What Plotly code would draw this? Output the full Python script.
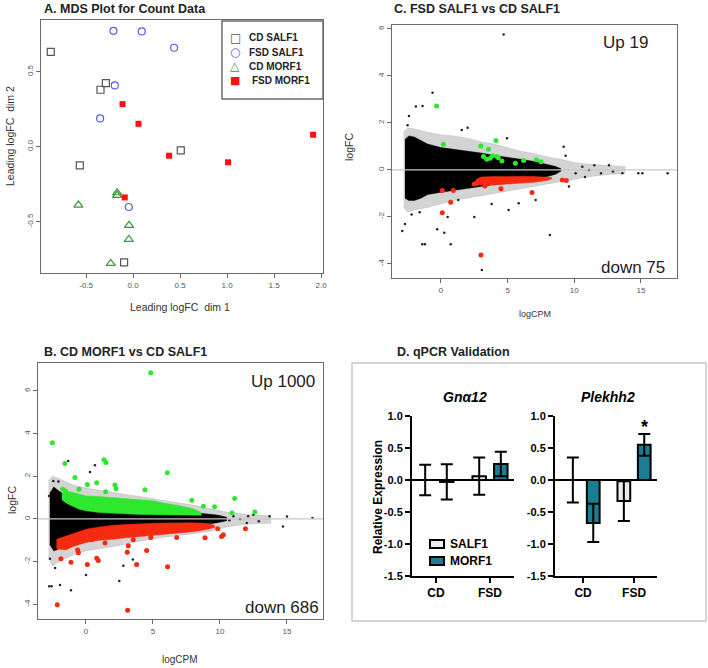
import plotly.graph_objects as go

W, H = 708, 668
def fx(px): return px / W
def fy(py): return 1 - py / H

FONT = "Liberation Sans, Arial, sans-serif"

# ---------------- Panel A: MDS data ----------------
cd_salf_x = [-0.876, -0.29, -0.347, -0.567, 0.507, -0.096]
cd_salf_y = [0.633, 0.424, 0.38, -0.124, -0.024, -0.771]
fsd_salf_x = [-0.209, 0.092, 0.436, -0.195, -0.351, -0.046]
fsd_salf_y = [0.773, 0.769, 0.66, 0.409, 0.189, -0.402]
cd_morf_x = [-0.582, -0.17, -0.17, -0.043, -0.046, -0.238]
cd_morf_y = [-0.389, -0.307, -0.324, -0.524, -0.618, -0.778]
fsd_morf_x = [-0.113, 0.057, 0.383, 1.01, 1.915, -0.089]
fsd_morf_y = [0.284, 0.153, -0.06, -0.104, 0.08, -0.338]
mds_groups = ["CD SALF1", "FSD SALF1", "CD MORF1", "FSD MORF1"]

# ---------------- Panel C: FSD SALF1 vs CD SALF1 ----------------
c_halo_cpm = [-2.8, -2.5, -2, -1, 0, 1, 2, 3, 4, 5, 6, 7, 8, 9, 10, 11, 12.5, 13.8]
c_halo_hi = [1.6, 1.8, 1.75, 1.6, 1.5, 1.45, 1.35, 1.2, 1.1, 0.95, 0.8, 0.7, 0.55, 0.45, 0.32, 0.25, 0.2, 0.15]
c_halo_lo = [-1.6, -1.8, -1.7, -1.6, -1.45, -1.3, -1.2, -1.1, -1.0, -0.9, -0.8, -0.7, -0.6, -0.5, -0.4, -0.3, -0.2, -0.15]
c_core_cpm = [-2.7, -2.4, -2.0, -1.5, -1.0, 0, 1, 2, 3, 4, 5, 6, 7, 8, 8.6, 9.0]
c_core_hi = [1.3, 1.45, 1.4, 1.25, 1.1, 0.95, 0.88, 0.8, 0.72, 0.62, 0.52, 0.45, 0.36, 0.24, 0.15, 0.05]
c_core_lo = [-1.2, -1.3, -1.3, -1.2, -1.05, -0.95, -0.85, -0.78, -0.7, -0.62, -0.55, -0.45, -0.38, -0.28, -0.18, -0.05]
c_red_cpm = [2.6, 3, 4, 5, 6, 7, 8, 8.3]
c_red_hi = [-0.42, -0.3, -0.28, -0.26, -0.27, -0.28, -0.3, -0.32]
c_red_lo = [-0.6, -0.64, -0.64, -0.6, -0.56, -0.52, -0.44, -0.38]
c_green_cpm = [-0.33, 0.18, 2.99, 4.12, 3.57, 3.19, 3.87, 4.2, 4.57, 5.58, 6.2, 7.16, 7.5, 3.44, 4.3, 3.7]
c_green_fc = [2.72, 1.09, 1.02, 1.25, 0.88, 0.57, 0.6, 0.57, 0.38, 0.28, 0.4, 0.43, 0.35, 0.45, 0.52, 0.5]
c_redpt_cpm = [0.1, 0.93, 0.73, 0.1, 3.0, 4.5, 6.83, 2.5, 9.1, 9.4, 2.7, 3.3]
c_redpt_fc = [-0.88, -0.88, -1.38, -1.82, -3.62, -0.8, -0.96, -0.6, -0.43, -0.45, -0.58, -0.68]
c_black_cpm = [4.7, -0.63, -1.88, -1.38, -2.4, -0.28, 0.25, 0.73, -1.4, -1.2, -2.9, -2.7, 8.17, 3.07, 2.5,
               4.95, 9.2, 9.35, 1.56, 1.3, 3.8, 5.07, 5.83, 7.1, 9.6, 10.1, 10.6, 11.1, 11.5, 12.6, 12.9,
               13.6, 14.8, 15.1, 17.0, 12.0, 10.8, -2.2, -2.5, -1.6, 2.0, 0.5]
c_black_fc = [5.77, 3.29, 2.7, 2.72, 2.3, -2.52, -2.67, -3.16, -3.16, -3.16, -2.6, -2.3, -2.77, -4.26, -2.0,
              1.35, 0.99, 0.6, 1.7, -1.28, -1.45, -1.7, -1.42, -1.28, -0.7, -0.14, 0.14, 0.0, 0.2, 0.2, -0.07,
              -0.14, -0.14, -0.14, -0.14, -0.14, -0.3, -1.9, 1.9, -1.8, 1.8, -2.0]

# ---------------- Panel B: CD MORF1 vs CD SALF1 ----------------
b_halo_cpm = [-2.8, -2.5, -2, -1, 0, 2, 4, 6, 8, 9.5, 10.5, 12, 13.8]
b_halo_hi = [1.8, 2.0, 1.9, 1.6, 1.45, 1.25, 1.05, 0.85, 0.65, 0.45, 0.32, 0.22, 0.15]
b_halo_lo = [-1.8, -2.2, -2.0, -1.7, -1.5, -1.3, -1.05, -0.85, -0.7, -0.55, -0.38, -0.25, -0.2]
b_core_cpm = [-2.7, -2.4, -2.0, -1.5, -1.0, 0, 2, 4, 6, 8, 9, 9.8, 10.5]
b_core_hi = [1.2, 1.5, 1.3, 1.1, 0.9, 0.75, 0.55, 0.45, 0.4, 0.3, 0.25, 0.18, 0.08]
b_core_lo = [-1.2, -1.5, -1.4, -1.2, -1.0, -0.8, -0.6, -0.45, -0.4, -0.3, -0.25, -0.18, -0.08]
b_green_cpm = [-1.8, -1.5, -1, -0.5, 0, 1, 2, 3, 4, 5, 6, 7, 8, 8.6]
b_green_hi = [1.2, 1.3, 1.25, 1.15, 1.08, 1.05, 1.0, 0.95, 0.9, 0.85, 0.72, 0.62, 0.48, 0.3]
b_green_lo = [0.9, 0.75, 0.6, 0.45, 0.38, 0.3, 0.26, 0.23, 0.21, 0.2, 0.19, 0.18, 0.17, 0.17]
b_red_cpm = [-2.2, -1.5, -1, 0, 1, 2, 3, 4, 5, 6, 7, 8, 9, 9.6]
b_red_hi = [-0.95, -0.8, -0.7, -0.48, -0.38, -0.3, -0.26, -0.22, -0.2, -0.19, -0.18, -0.18, -0.2, -0.3]
b_red_lo = [-1.4, -1.45, -1.3, -1.1, -1.0, -0.95, -0.88, -0.8, -0.75, -0.7, -0.65, -0.6, -0.5, -0.4]
b_greenpt_cpm = [4.83, -2.51, 1.34, 1.49, 6.07, -1.57, 0.8, 0.1, 2.16, 2.24, 4.4, -0.82, -0.52, 11.1, 12.6,
                 9.6, 10.9, 8.76, 7.9, 1.47, -1.52, -1.74]
b_greenpt_fc = [6.85, 3.57, 2.77, 2.65, 2.17, 2.6, 1.7, 1.62, 1.59, 1.43, 1.37, 1.94, 1.39, 0.96, 0.33,
                0.57, 0.28, 0.6, 0.88, 1.28, 1.31, 1.39]
b_redpt_cpm = [-2.14, 3.11, -1.12, 0.1, 0.8, 0.92, 3.08, 3.16, 3.78, 6.09, 4.53, -1.87, -0.62, -0.57, -1.44,
               10.12, 10.25, 11.9, 8.88, 9.83, 6.77, 4.83, 1.42, 0.42, 3.53]
b_redpt_fc = [-4.02, -4.28, -2.03, -2.13, -1.84, -1.95, -1.56, -1.26, -2.13, -2.24, -1.48, -1.86, -1.45, -1.59, -1.29,
              -0.82, -0.74, -0.46, -0.88, -0.46, -0.87, -0.87, -1.13, -0.98, -0.98]
b_black_cpm = [-2.69, -2.74, -2.56, -1.94, -1.12, 0.0, 2.49, -1.32, 0.67, -2.06, -2.44, -2.76, 12.1, 12.9,
               13.7, 14.7, 15.0, 16.9, 11.5, 10.7, 11.0, 12.0, 9.25, 10.0, 12.5, 2.79, -2.3, 0.3, 3.5]
b_black_fc = [-1.87, -3.15, -3.15, -3.1, -3.34, -2.63, -2.91, 2.72, 2.52, 1.75, 1.78, 1.07, 0.13, -0.11,
              0.13, -0.35, 0.11, 0.05, 0.0, -0.06, 0.13, -0.19, -0.19, 0.13, 0.2, -2.19, -2.3, 2.2, -1.9]

# ---------------- Panel D: qPCR ----------------
groups = ["CD", "FSD"]
gna_salf = [0.0, 0.06]
gna_salf_err = [0.24, 0.29]
gna_morf = [-0.03, 0.25]
gna_morf_err = [0.275, 0.19]
plek_salf = [0.0, -0.33]
plek_salf_err = [0.35, 0.31]
plek_morf = [-0.67, 0.55]
plek_morf_err = [0.30, 0.17]
bar_series = ["SALF1", "MORF1"]

GREEN = "#2ee82e"
RED = "#f52a10"
TEAL = "#1b7d92"
SALF_FILL = "#ececec"

fig = go.Figure()

# ---- Panel A traces
mds_styles = [
    dict(symbol="square-open", size=7, color="#555555", line=dict(width=1.2)),
    dict(symbol="circle-open", size=7, color="#5a5af5", line=dict(width=1.2)),
    dict(symbol="triangle-up-open", size=8, color="#3a963a", line=dict(width=1.2)),
    dict(symbol="square", size=6, color="#ff1010"),
]
for name, xs, ys, st in zip(mds_groups, [cd_salf_x, fsd_salf_x, cd_morf_x, fsd_morf_x],
                            [cd_salf_y, fsd_salf_y, cd_morf_y, fsd_morf_y], mds_styles):
    fig.add_trace(go.Scatter(x=xs, y=ys, mode="markers", name=name, showlegend=False,
                             marker=st, xaxis="x", yaxis="y"))

def poly(cpm, hi, lo, color, xa, ya):
    fig.add_trace(go.Scatter(x=list(cpm) + list(cpm)[::-1], y=list(hi) + list(lo)[::-1],
                             mode="lines", fill="toself", fillcolor=color,
                             line=dict(width=0.5, color=color), hoverinfo="skip",
                             showlegend=False, xaxis=xa, yaxis=ya))

def pts(x, y, color, size, xa, ya):
    fig.add_trace(go.Scatter(x=x, y=y, mode="markers", marker=dict(size=size, color=color),
                             showlegend=False, hoverinfo="skip", xaxis=xa, yaxis=ya))

HALO = "rgba(0,0,0,0.17)"
# ---- Panel C traces
poly(c_halo_cpm, c_halo_hi, c_halo_lo, HALO, "x2", "y2")
poly(c_core_cpm, c_core_hi, c_core_lo, "#000000", "x2", "y2")
pts(c_black_cpm, c_black_fc, "#222222", 2.5, "x2", "y2")
poly(c_red_cpm, c_red_hi, c_red_lo, RED, "x2", "y2")
pts(c_redpt_cpm, c_redpt_fc, RED, 5, "x2", "y2")
pts(c_green_cpm, c_green_fc, GREEN, 5, "x2", "y2")

# ---- Panel B traces
poly(b_halo_cpm, b_halo_hi, b_halo_lo, HALO, "x3", "y3")
poly(b_core_cpm, b_core_hi, b_core_lo, "#000000", "x3", "y3")
pts(b_black_cpm, b_black_fc, "#222222", 2.5, "x3", "y3")
poly(b_green_cpm, b_green_hi, b_green_lo, GREEN, "x3", "y3")
poly(b_red_cpm, b_red_hi, b_red_lo, RED, "x3", "y3")
pts(b_greenpt_cpm, b_greenpt_fc, GREEN, 5, "x3", "y3")
pts(b_redpt_cpm, b_redpt_fc, RED, 5, "x3", "y3")

# ---- Panel D bars
idx = list(range(len(groups)))
OFF = 0.2
BW = 0.25
def bars(vals, errs, color, name, xa, ya, side):
    xs = [i + side * OFF for i in idx]
    fig.add_trace(go.Bar(x=xs, y=vals, width=BW, name=name, showlegend=False,
                         marker=dict(color=color, line=dict(color="black", width=2)),
                         error_y=dict(type="data", array=errs, visible=True, color="black",
                                      thickness=2, width=6),
                         xaxis=xa, yaxis=ya))

bars(gna_salf, gna_salf_err, SALF_FILL, "SALF1", "x4", "y4", -1)
bars(gna_morf, gna_morf_err, TEAL, "MORF1", "x4", "y4", 1)
bars(plek_salf, plek_salf_err, SALF_FILL, "SALF1", "x5", "y5", -1)
bars(plek_morf, plek_morf_err, TEAL, "MORF1", "x5", "y5", 1)

# ---- Axes
def r_axis(l, r, rng, tv, tt, anchor, angle=0):
    return dict(domain=[l, r], range=rng, tickvals=tv, ticktext=tt, anchor=anchor,
                showline=True, linecolor="#6a6a6a", linewidth=1, mirror=True,
                ticks="outside", ticklen=4, tickcolor="#6a6a6a", tickangle=angle,
                tickfont=dict(size=8, color="#555555", family=FONT),
                showgrid=False, zeroline=False, automargin=False)

layout = dict(width=W, height=H, margin=dict(l=0, r=0, t=0, b=0, autoexpand=False),
              paper_bgcolor="white", plot_bgcolor="white", font=dict(family=FONT),
              barmode="overlay", showlegend=False)

layout["xaxis"] = r_axis(fx(41), fx(323), [-0.98, 2.02], [-0.5, 0, 0.5, 1, 1.5, 2],
                         ["-0.5", "0.0", "0.5", "1.0", "1.5", "2.0"], "y")
layout["yaxis"] = r_axis(fy(273), fy(20), [-0.842, 0.845], [-0.5, 0, 0.5],
                         ["-0.5", "0.0", "0.5"], "x", -90)
layout["xaxis2"] = r_axis(fx(392), fx(677), [-3.67, 17.7], [0, 5, 10, 15],
                          ["0", "5", "10", "15"], "y2")
layout["yaxis2"] = r_axis(fy(278), fy(25), [-4.6, 6.17], [-4, -2, 0, 2, 4, 6],
                          ["-4", "-2", "0", "2", "4", "6"], "x2", -90)
layout["xaxis3"] = r_axis(fx(38), fx(323), [-3.58, 17.69], [0, 5, 10, 15],
                          ["0", "5", "10", "15"], "y3")
layout["yaxis3"] = r_axis(fy(619), fy(363), [-4.69, 7.31], [-4, -2, 0, 2, 4, 6],
                          ["-4", "-2", "0", "2", "4", "6"], "x3", -90)

def d_axes(l, r, rng):
    xa = dict(domain=[fx(l), fx(r)], range=rng, tickvals=idx, ticktext=groups,
              showline=True, linecolor="black", linewidth=2, ticks="outside", ticklen=5,
              tickwidth=2, tickcolor="black", showgrid=False, zeroline=False, automargin=False,
              tickfont=dict(size=12, color="black", family=FONT, weight="bold"))
    ya = dict(domain=[fy(576), fy(416)], range=[-1.5, 1.0],
              tickvals=[-1.5, -1.0, -0.5, 0, 0.5, 1.0],
              ticktext=["-1.5", "-1.0", "-0.5", "0.0", "0.5", "1.0"],
              showline=True, linecolor="black", linewidth=2, ticks="outside", ticklen=5,
              tickwidth=2, tickcolor="black", showgrid=False, automargin=False,
              zeroline=True, zerolinecolor="black", zerolinewidth=2,
              tickfont=dict(size=11, color="black", family=FONT, weight="bold"))
    return xa, ya

layout["xaxis4"], layout["yaxis4"] = d_axes(412, 514, [-0.444, 1.444])
layout["xaxis5"], layout["yaxis5"] = d_axes(555, 657, [-0.55, 1.45])
layout["xaxis4"]["anchor"] = "y4"; layout["yaxis4"]["anchor"] = "x4"
layout["xaxis5"]["anchor"] = "y5"; layout["yaxis5"]["anchor"] = "x5"

def rect(x0, y0, x1, y1, line, fill="rgba(0,0,0,0)", width=1.5):
    return dict(type="rect", xref="paper", yref="paper", x0=fx(x0), x1=fx(x1),
                y0=fy(y1), y1=fy(y0), line=dict(color=line, width=width), fillcolor=fill)

shapes = []
for xa, ya in (("x2", "y2"), ("x3", "y3")):
    shapes.append(dict(type="line", xref=xa + " domain", yref=ya, x0=0, x1=1, y0=0, y1=0,
                       line=dict(color="#c8c8c8", width=1.2), layer="above"))
# panel D frame
shapes.append(rect(352, 363, 706, 621, "#c8c8c8"))
# legend boxes
shapes.append(rect(222, 21, 323, 99, "#6a6a6a", "white", 1.5))
shapes.append(rect(430, 540, 444, 548, "black", SALF_FILL, 2))
shapes.append(rect(430, 557, 444, 565, "black", TEAL, 2))
layout["shapes"] = shapes

def ann(text, x, y, size, color="#222222", xanchor="center", angle=0, bold=False, italic=False):
    t = text
    if bold:
        t = "<b>" + t + "</b>"
    if italic:
        t = "<i>" + t + "</i>"
    return dict(text=t, x=fx(x), y=fy(y), xref="paper", yref="paper", showarrow=False,
                xanchor=xanchor, yanchor="middle", textangle=angle,
                font=dict(size=size, color=color, family=FONT))

annotations = [
    ann("A. MDS Plot for Count Data", 42, 9, 12.5, bold=True, xanchor="left"),
    ann("C. FSD SALF1 vs CD SALF1", 392, 9, 12.5, bold=True, xanchor="left"),
    ann("B. CD MORF1 vs CD SALF1", 42, 352, 12.5, bold=True, xanchor="left"),
    ann("D. qPCR Validation", 395, 352, 12.5, bold=True, xanchor="left"),
    ann("Leading logFC  dim 1", 180, 307, 10.5, color="#333333"),
    ann("Leading logFC  dim 2", 10, 136, 10.5, color="#333333", angle=-90),
    ann("logFC", 349, 147, 10.5, color="#333333", angle=-90),
    ann("logCPM", 535, 314, 9, color="#333333"),
    ann("logFC", 12, 500, 10.5, color="#333333", angle=-90),
    ann("logCPM", 180, 659, 10, color="#333333"),
    ann("Up 19", 650, 43, 17, xanchor="right"),
    ann("down 75", 667, 267, 17, xanchor="right"),
    ann("Up 1000", 317, 381, 17, xanchor="right"),
    ann("down 686", 321, 607, 17, xanchor="right"),
    ann("Relative Expression", 378, 497, 12, color="black", angle=-90, bold=True),
    ann("Gnα12", 465, 397, 14, color="black", bold=True, italic=True),
    ann("Plekhh2", 608, 397, 14, color="black", bold=True, italic=True),
    ann("*", 644, 427, 18, color="black", bold=True),
]
# MDS legend (glyph + label)
glyphs = ["□", "○", "△", "■"]
glyph_cols = ["#555555", "#5a5af5", "#3a963a", "#ff1010"]
glyph_sizes = [12, 12, 12, 11]
for i, (g, c, gs, name) in enumerate(zip(glyphs, glyph_cols, glyph_sizes, mds_groups)):
    yy = 38 + 14 * i
    annotations.append(dict(text=g, x=fx(235), y=fy(yy), xref="paper", yref="paper",
                            showarrow=False, xanchor="center", yanchor="middle",
                            font=dict(size=gs, color=c, family="DejaVu Sans")))
    annotations.append(ann(name, 247 if i != 3 else 250, yy, 10, color="#222222",
                           xanchor="left", bold=True))
# qPCR legend labels
for i, name in enumerate(bar_series):
    annotations.append(ann(name, 448, 544 + 17 * i, 12, color="black", xanchor="left", bold=True))
layout["annotations"] = annotations

fig.update_layout(**layout)
fig.write_html("out.html", config={"displayModeBar": False},
               post_script="document.body.style.margin='0px';document.body.style.padding='0px';")
